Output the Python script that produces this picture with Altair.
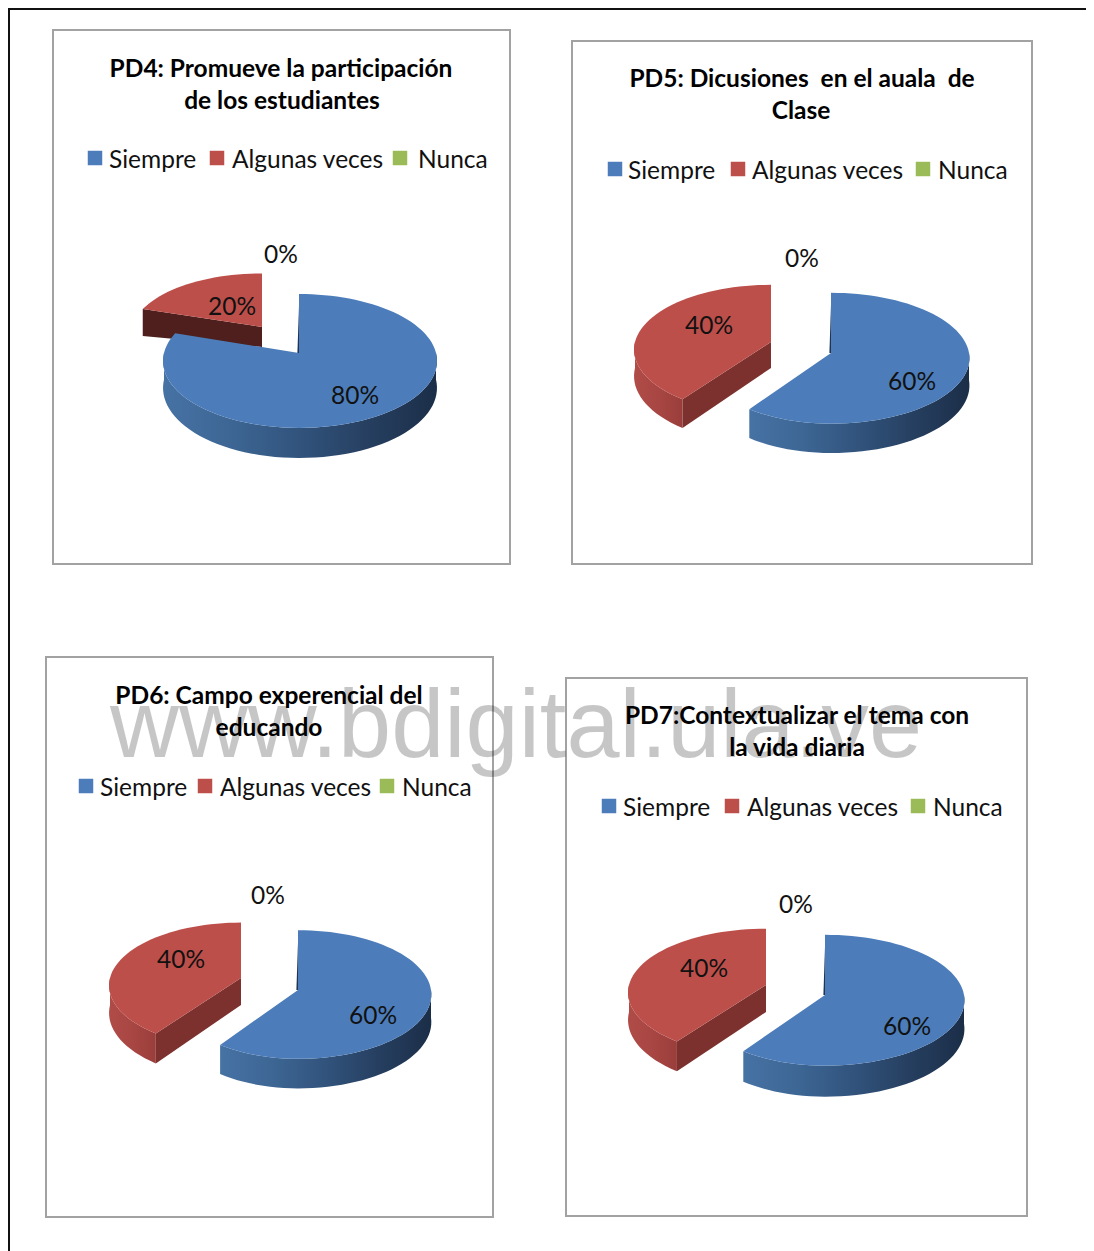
import math
import altair as alt

categories = ["Siempre", "Algunas veces", "Nunca"]
colors = ["#4c7dba", "#bd4f4b", "#9bbb59"]
pd4 = [80, 20, 0]
pd5 = [60, 40, 0]
pd6 = [60, 40, 0]
pd7 = [60, 40, 0]
titles = [
    ["PD4: Promueve la participación", "de los estudiantes"],
    ["PD5: Dicusiones\u00a0 en el auala\u00a0 de", "Clase"],
    ["PD6: Campo experencial del", "educando"],
    ["PD7:Contextualizar el tema con", "la vida diaria"],
]
watermark = "www.bdigital.ula.ve"

# ---- layout (pixels of the page) ----
FONT = "Lato"
frames = [(53, 510, 30, 564), (572, 1032, 41, 564), (46, 493, 657, 1217), (566, 1027, 678, 1216)]
title_pos = [((281, 70), (282, 102)), ((802, 80), (801, 112)), ((269, 697), (269, 729)), ((797, 717), (797, 749))]
legend_y = [158, 169, 786, 806]
legend_sq = [(95, 217, 400), (615, 738, 923), (86, 205, 387), (609, 732, 918)]
legend_tx = [(109, 232, 418), (628, 752, 938), (100, 220, 402), (623, 747, 933)]
label_pos = [
    ((355, 397), (232, 308), (281, 256)),
    ((912, 383), (709, 327), (802, 260)),
    ((373, 1017), (181, 961), (268, 897)),
    ((907, 1028), (704, 970), (796, 906)),
]
# perspective pie parts: vx, vy, rx, ry, k, arc depth, vertex depth, left rx
blue_geo = [
    (299, 353, 137, 66, 0.119, 26.5, 26, 135),
    (831, 353, 138, 65, 0.08, 27, 27, 130),
    (298, 990, 133, 64, 0.07, 27.5, 28, 125),
    (825, 995, 139, 65, 0.08, 28.5, 28, 130),
]
red_geo = [
    (262, 327, 130, 60, 0.119, 28, 20, 130),
    (771, 342, 136, 64, 0.119, 26, 26, 136),
    (241, 978, 131, 62, 0.119, 27, 27, 131),
    (766, 985, 137, 63, 0.119, 27, 27, 137),
]
red_cut = ["#4e1f1c", "#7c312e", "#7c312e", "#7c312e"]

SX = alt.Scale(domain=[8, 1086], range=[0, 1078])
SY = alt.Scale(domain=[8, 1251], range=[0, 1243])


def pt(g, a, d=0.0):
    vx, vy, rx, ry, k = g[:5]
    u, v = math.sin(math.radians(a)), math.cos(math.radians(a))
    den = 1 + k * v
    r = rx if u >= 0 else g[7]
    return [vx + r * u / den, vy - ry * v / den + d / den]


def arc(g, a0, a1, d=0.0):
    n = max(2, int(abs(a1 - a0) / 3) + 1)
    return [pt(g, a0 + (a1 - a0) * i / (n - 1), d) for i in range(n)]


def poly(points, **mark):
    ring = points + [points[0]]
    feature = {"type": "Feature", "properties": {}, "geometry": {"type": "Polygon", "coordinates": [ring]}}
    return alt.Chart(alt.Data(values=[feature])).mark_geoshape(**mark).project(type="identity", scale=1, translate=[-8, -8])


def grad(stops):
    n = len(stops)
    return alt.Gradient(
        gradient="linear", x1=0, x2=1, y1=0, y2=0,
        stops=[alt.GradientStop(offset=i / (n - 1), color=c) for i, c in enumerate(stops)],
    )


layers = []

# page border
border = alt.Chart(alt.Data(values=[
    {"x": 8, "x2": 1086, "y": 9, "y2": 9},
    {"x": 9, "x2": 9, "y": 8, "y2": 1251},
])).mark_rule(color="#111111", strokeWidth=2).encode(
    x=alt.X("x:Q", scale=SX, axis=None), x2="x2:Q",
    y=alt.Y("y:Q", scale=SY, axis=None), y2="y2:Q",
)
layers.append(border)

# panel frames
frame_rows = [{"x": f[0], "x2": f[1], "y": f[2], "y2": f[3]} for f in frames]
layers.append(alt.Chart(alt.Data(values=frame_rows)).mark_rect(fill="white", stroke="#a2a2a2", strokeWidth=2).encode(
    x=alt.X("x:Q", scale=SX, axis=None), x2="x2:Q",
    y=alt.Y("y:Q", scale=SY, axis=None), y2="y2:Q",
))

# pies
for i, vals in enumerate([pd4, pd5, pd6, pd7]):
    end_blue = vals[0] * 3.6
    end_red = end_blue + vals[1] * 3.6
    bg, rg = blue_geo[i], red_geo[i]
    # red part (behind)
    dA, dV = rg[5], rg[6]
    cut = [pt(rg, end_blue), [rg[0], rg[1]], [rg[0], rg[1] + dV], pt(rg, end_blue, dA)]
    if end_blue < 270:
        w0, w1 = end_blue, 270
        layers.append(poly(arc(rg, w0, w1) + arc(rg, w1, w0, dA), fill=grad(["#b04c48", "#a84643", "#9a3e3b"])))
    layers.append(poly(cut, fill=red_cut[i]))
    layers.append(poly(arc(rg, end_blue, end_red) + [[rg[0], rg[1]]], fill=colors[1]))
    # blue part
    w1 = min(end_blue, 270)
    layers.append(poly(arc(bg, 90, w1) + arc(bg, w1, 90, bg[5]),
                       fill=grad(["#4672a4", "#3d6694", "#31537c", "#263f60", "#1b2e48"])))
    layers.append(poly(arc(bg, 0, end_blue) + [[bg[0], bg[1]]], fill=colors[0]))
    top = pt(bg, 0)
    layers.append(poly([[bg[0], top[1] + 12], [bg[0], bg[1]], [bg[0] - 1.6, bg[1]]], fill="#1f3552"))

# legend squares and texts
sq_rows, leg_rows, title_rows, lab_rows = [], [], [], []
for i in range(4):
    for j, c in enumerate(categories):
        sq_rows.append({"x": legend_sq[i][j], "y": legend_y[i], "c": c})
        leg_rows.append({"x": legend_tx[i][j], "y": legend_y[i] + 3, "t": c})
    for (x, y), t in zip(title_pos[i], titles[i]):
        title_rows.append({"x": x, "y": y, "t": t})
    for (x, y), v in zip(label_pos[i], [pd4, pd5, pd6, pd7][i]):
        lab_rows.append({"x": x, "y": y, "t": f"{v}%"})

layers.append(alt.Chart(alt.Data(values=sq_rows)).mark_square(size=210, opacity=1).encode(
    x=alt.X("x:Q", scale=SX, axis=None), y=alt.Y("y:Q", scale=SY, axis=None),
    color=alt.Color("c:N", scale=alt.Scale(domain=categories, range=colors), legend=None),
))
layers.append(alt.Chart(alt.Data(values=leg_rows)).mark_text(font=FONT, fontSize=24.5, align="left", baseline="middle", color="#111111").encode(
    x=alt.X("x:Q", scale=SX, axis=None), y=alt.Y("y:Q", scale=SY, axis=None), text="t:N",
))
layers.append(alt.Chart(alt.Data(values=lab_rows)).mark_text(font=FONT, fontSize=24.5, align="center", baseline="middle", color="#111111").encode(
    x=alt.X("x:Q", scale=SX, axis=None), y=alt.Y("y:Q", scale=SY, axis=None), text="t:N",
))
layers.append(alt.Chart(alt.Data(values=title_rows)).mark_text(font=FONT, fontSize=24.5, fontWeight="bold", align="center", baseline="middle", color="#000000").encode(
    x=alt.X("x:Q", scale=SX, axis=None), y=alt.Y("y:Q", scale=SY, axis=None), text="t:N",
))
# watermark
layers.append(alt.Chart(alt.Data(values=[{"x": 516, "y": 757, "t": watermark}])).mark_text(
    font="Liberation Sans", fontSize=95.5, align="center", baseline="alphabetic", color="#000000", opacity=0.22
).encode(
    x=alt.X("x:Q", scale=SX, axis=None), y=alt.Y("y:Q", scale=SY, axis=None), text="t:N",
))

chart = alt.layer(*layers).properties(
    width=1078, height=1243, padding=0, background="white",
    autosize=alt.AutoSizeParams(type="none"),
).configure_view(stroke=None)

chart.save("out.html", embed_options={"renderer": "svg", "actions": False})
